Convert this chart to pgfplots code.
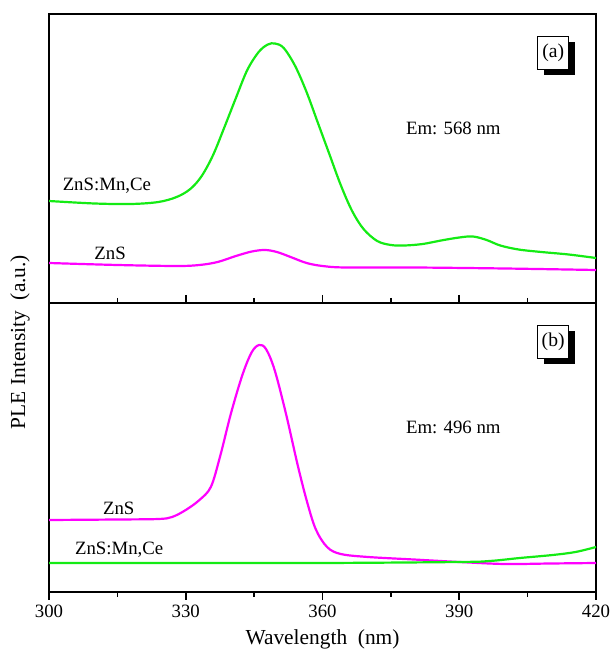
\documentclass[border=0pt]{standalone}
\usepackage{pgfplots}
\pgfplotsset{compat=1.18}
\usepackage{fontspec}
\setmainfont{Liberation Serif}
\usetikzlibrary{shadows}
\definecolor{cgreen}{RGB}{20,235,20}
\definecolor{cmag}{RGB}{255,0,255}
\tikzset{
  lbl/.style={font=\fontsize{9.4}{11}\selectfont},
  boxlbl/.style={draw, fill=white, line width=0.4pt, inner sep=1pt,
    minimum width=15.5pt, minimum height=16.5pt,
    font=\fontsize{9.8}{11}\selectfont,
    drop shadow={shadow xshift=3pt, shadow yshift=-3pt, fill=black, opacity=1}},
}
\begin{document}
\begin{tikzpicture}
\path[use as bounding box] (-24.5pt,-28.5pt) rectangle (280.5pt,296pt);
\pgfplotsset{
  common/.style={scale only axis, width=273.5pt, height=144.5pt,
    xmin=300, xmax=420, ymin=0, ymax=289, ytick=\empty,
    axis line style={line width=0.9pt},
    every axis plot/.append style={line width=1.1pt, smooth, tension=0.55},
  }
}
% lower panel (b)
\begin{axis}[common, at={(0,0)}, anchor=south west,
  xtick={300,330,...,420}, minor x tick num=1,
  tick align=outside, xtick pos=both, xticklabel pos=left,
  major tick length=4pt, minor tick length=2.5pt,
  tick style={black, line width=0.8pt},
  ticklabel style={font=\fontsize{9.4}{11}\selectfont},
  xticklabel style={yshift=1pt},
  /pgf/number format/assume math mode=true,
  xlabel={Wavelength\ \ (nm)},
  xlabel style={font=\fontsize{10.7}{12}\selectfont, yshift=0.8pt},
]
\addplot[cmag] coordinates {
(300,72) (315,72.5) (324,73) (327,75) (330,82) (333,92) (335.5,105) (337.5,135)
(340,180) (342.5,218) (344.5,240) (346.1,247) (347.6,243) (349.5,222) (352,178)
(354.5,128) (356.5,92) (358.5,63) (361,45) (364,38) (370,35) (380,32.5)
(390,30) (400,28) (410,28.5) (420,29)
};
\addplot[cgreen] coordinates {
(300,29) (330,29) (360,29) (390,30) (396.7,31) (403.3,34) (410.5,37) (415.5,40) (420,45)
};
\node[lbl] at (axis cs:315.3,84) {ZnS};
\node[lbl] at (axis cs:315.4,42) {ZnS:Mn,Ce};
\node[lbl] at (axis cs:388.7,165) {Em: 496 nm};
\node[boxlbl] at (axis cs:410.6,250) {(b)};
\end{axis}
% upper panel (a)
\begin{axis}[common, at={(0,144.5pt)}, anchor=south west, xtick=\empty]
\addplot[cgreen] coordinates {
(300,102) (310,99.5) (318,99) (324,101) (328,106) (331,114) (333.5,127) (336,148)
(338.5,176) (341,205) (343.5,233) (346,251) (348,258.5) (349.6,259.5) (351.5,255)
(354,237) (356.5,211) (359,180) (361.5,149) (364,118) (366.5,92) (369,74) (372,62)
(375,58) (378,57.5) (382,59) (386,62.5) (390,65.5) (393,66.5) (396,63) (399,57.5)
(403,53.5) (408,51) (414,48.5) (420,45)
};
\addplot[cmag] coordinates {
(300,40) (315,38) (328,37) (333,38) (337,41) (341,47) (344.5,51.5) (347.4,53)
(350,51) (353,46) (356.5,40) (360,37) (365,35.5) (380,35.5) (400,34.5) (420,33)
};
\node[lbl] at (axis cs:312.7,117) {ZnS:Mn,Ce};
\node[lbl] at (axis cs:313.4,50) {ZnS};
\node[lbl] at (axis cs:388.7,175) {Em: 568 nm};
\node[boxlbl] at (axis cs:410.6,250) {(a)};
\end{axis}
\node[rotate=90, font=\fontsize{10.7}{12}\selectfont] at (-14.5pt,125pt) {PLE Intensity\ \ (a.u.)};
\end{tikzpicture}
\end{document}
